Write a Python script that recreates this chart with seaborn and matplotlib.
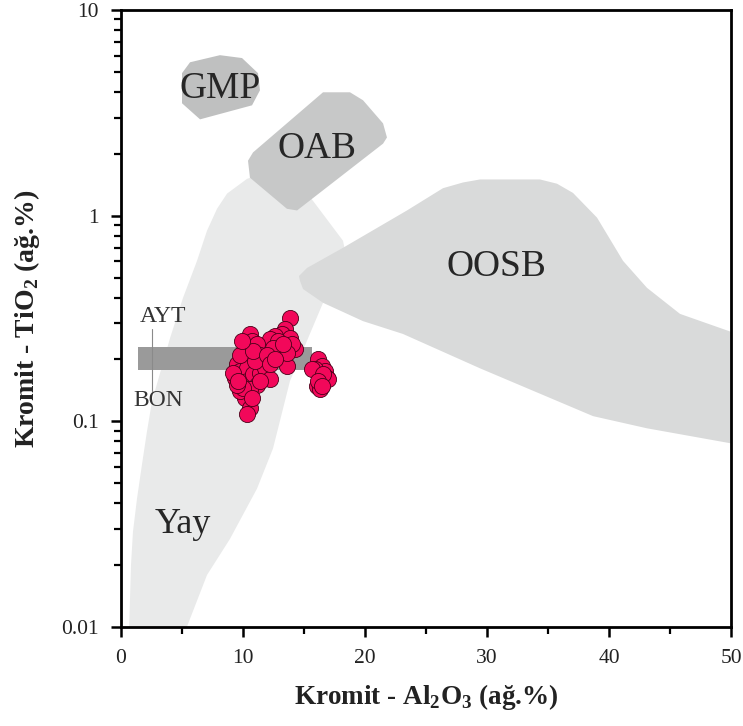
import numpy as np
import pandas as pd
import matplotlib
matplotlib.use("Agg")
import matplotlib.pyplot as plt
from matplotlib.ticker import FixedLocator, FixedFormatter, LogLocator, NullFormatter
import seaborn as sns

# Chromite analyses: Al2O3 (wt.%) vs TiO2 (wt.%)
al2o3 = [16.17, 16.45, 16.72, 16.31, 16.86, 16.58, 16.04, 16.31, 16.99, 15.90, 15.63, 16.58, 16.17, 16.45,
         13.85, 13.44, 13.17, 13.85, 14.26, 13.58, 13.99, 13.03, 12.62, 12.21, 13.58, 12.90, 12.49, 13.31,
         10.57, 10.71, 10.30, 11.12, 11.39, 10.16, 9.48, 9.34, 9.75, 10.30, 10.30, 10.85, 11.39, 11.67,
         11.80, 12.21, 11.12, 10.57, 10.16, 9.75, 10.03, 9.48, 10.57, 10.30, 10.98, 9.75, 10.85, 11.94,
         12.21, 12.62, 11.39, 10.71, 9.21, 9.62, 9.89]
tio2 = [0.200, 0.185, 0.175, 0.163, 0.163, 0.154, 0.148, 0.143, 0.160, 0.179, 0.179, 0.169, 0.157, 0.148,
        0.319, 0.280, 0.265, 0.255, 0.224, 0.185, 0.237, 0.215, 0.260, 0.250, 0.215, 0.246, 0.228, 0.237,
        0.265, 0.246, 0.228, 0.237, 0.211, 0.204, 0.189, 0.163, 0.175, 0.182, 0.157, 0.169, 0.172, 0.196,
        0.182, 0.160, 0.151, 0.143, 0.130, 0.140, 0.145, 0.151, 0.116, 0.108, 0.196, 0.211, 0.220, 0.211,
        0.189, 0.200, 0.157, 0.130, 0.172, 0.157, 0.246]

# Tectonic-setting fields (Al2O3, TiO2 outlines)
yay_x = [0.66, 0.82, 0.98, 1.31, 1.72, 2.13, 2.54, 4.02, 5.08, 6.23, 7.05, 7.87, 8.69, 10.33, 11.8, 14.26,
         15.74, 18.2, 18.36, 16.56, 13.85, 12.46, 11.15, 8.93, 7.05, 5.25]
yay_y = [0.0095, 0.020, 0.029, 0.042, 0.0617, 0.0894, 0.125, 0.254, 0.398, 0.603, 0.845, 1.08, 1.28, 1.51,
         1.62, 1.51, 1.18, 0.755, 0.675, 0.377, 0.157, 0.0738, 0.0471, 0.0268, 0.0179, 0.0095]

oosb_x = [14.67, 14.92, 16.56, 19.84, 23.11, 29.43, 38.69, 43.11, 50.5, 50.5, 45.82, 43.11, 41.15, 39.02,
          37.05, 35.74, 34.34, 29.43, 28.03, 26.39, 23.44, 18.2, 15.25, 14.59]
oosb_y = [0.482, 0.44, 0.377, 0.307, 0.266, 0.181, 0.106, 0.0925, 0.0772, 0.266, 0.333, 0.446, 0.603, 0.978,
          1.29, 1.43, 1.50, 1.50, 1.45, 1.36, 1.06, 0.698, 0.557, 0.509]

oab_x = [16.56, 18.77, 19.84, 21.48, 21.8, 21.48, 14.43, 13.6, 10.57, 10.41, 10.82]
oab_y = [3.98, 3.98, 3.64, 2.81, 2.40, 2.24, 1.06, 1.08, 1.53, 1.85, 2.03]

gmp_x = [5.66, 8.11, 9.92, 11.23, 11.39, 10.74, 6.48, 5.0, 5.0]
gmp_y = [5.57, 6.03, 5.84, 4.93, 4.07, 3.44, 2.94, 3.52, 4.93]

# Boninite / arc-tholeiite band
band_x = [1.39, 15.66]
band_y = [0.178, 0.23]

x_ticks = [0, 10, 20, 30, 40, 50]
y_ticks = [0.01, 0.1, 1, 10]
y_tick_labels = ["0.01", "0.1", "1", "10"]

sns.set_theme(style="white")
plt.rcParams["font.family"] = ["Liberation Serif", "DejaVu Serif"]
plt.rcParams["mathtext.fontset"] = "custom"
plt.rcParams["mathtext.rm"] = "Liberation Serif"
plt.rcParams["mathtext.bf"] = "Liberation Serif:bold"

fig = plt.figure(figsize=(7.43, 7.26), dpi=100)
ax = fig.add_axes([121 / 743, 1 - 627 / 726, 610 / 743, 617 / 726])
ax.set_yscale("log")
ax.set_xlim(0, 50)
ax.set_ylim(0.01, 10)

ax.fill(yay_x, yay_y, color="#e9eaea", lw=0, zorder=1)
ax.fill(oosb_x, oosb_y, color="#d9dada", lw=0, zorder=2)
ax.fill(oab_x, oab_y, color="#c7c8c8", lw=0, zorder=3)
ax.fill(gmp_x, gmp_y, color="#bfc0c0", lw=0, zorder=3)
ax.fill_between(band_x, band_y[0], band_y[1], color="#9a9a9a", lw=0, zorder=4)
ax.plot([2.54, 2.54], [0.14, 0.28], color="#8a8a8a", lw=0.8, zorder=5)

df = pd.DataFrame({"Al2O3": al2o3, "TiO2": tio2})
sns.scatterplot(data=df, x="Al2O3", y="TiO2", ax=ax, s=135, color="#f2085a",
                edgecolor="#4a0018", linewidth=0.6, zorder=6)

txt = "#262626"
ax.text(8.1, 4.16, "GMP", fontsize=27, color=txt, ha="center", va="center", zorder=7)
ax.text(16.1, 2.12, "OAB", fontsize=27, color=txt, ha="center", va="center", zorder=7)
ax.text(30.8, 0.564, "OOSB", fontsize=27, color=txt, ha="center", va="center", zorder=7)
ax.text(5.1, 0.0315, "Yay", fontsize=26, color=txt, ha="center", va="center", zorder=7)
ax.text(3.44, 0.325, "AYT", fontsize=17, color="#333333", ha="center", va="center", zorder=7)
ax.text(3.03, 0.1265, "BON", fontsize=17, color="#333333", ha="center", va="center", zorder=7)

for side in ["left", "right", "top", "bottom"]:
    ax.spines[side].set_visible(True)
    ax.spines[side].set_linewidth(2.0)
    ax.spines[side].set_color("black")

ax.xaxis.set_major_locator(FixedLocator(x_ticks))
ax.xaxis.set_minor_locator(FixedLocator([5, 15, 25, 35, 45]))
ax.yaxis.set_major_locator(FixedLocator(y_ticks))
ax.yaxis.set_major_formatter(FixedFormatter(y_tick_labels))
ax.yaxis.set_minor_locator(LogLocator(base=10, subs=np.arange(2, 10)))
ax.yaxis.set_minor_formatter(NullFormatter())
ax.tick_params(which="major", direction="out", length=7, width=1.8, color="black",
               labelsize=15.5, labelcolor="#222222", pad=9, left=True, bottom=True)
ax.tick_params(which="minor", direction="out", length=5, width=1.6, color="black",
               left=True, bottom=True)

ax.set_xlabel(r"Kromit - Al$_\mathbf{2}$O$_\mathbf{3}$ (ağ.%)", fontsize=19.5,
              fontweight="bold", color="#222222", labelpad=10)
ax.set_ylabel(r"Kromit - TiO$_\mathbf{2}$ (ağ.%)", fontsize=20,
              fontweight="bold", color="#222222", labelpad=14)

fig.savefig("out.png", dpi=100)
